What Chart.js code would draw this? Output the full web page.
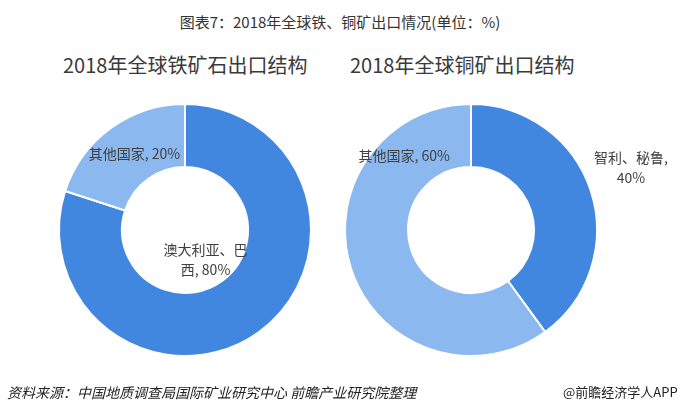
<!DOCTYPE html>
<html><head><meta charset="utf-8">
<script src="https://cdn.jsdelivr.net/npm/chart.js@4"></script>
<style>
html,body{margin:0;padding:0;background:#fff;}
#wrap{position:relative;width:680px;height:412px;overflow:hidden;font-family:"Noto Sans CJK SC","Noto Sans",sans-serif;}
canvas{position:absolute;left:0;top:0;}
.t{position:absolute;white-space:nowrap;color:#333;}
</style></head>
<body><div id="wrap">
<div class="t" style="left:0;width:680px;text-align:center;top:11px;font-size:15px;">图表7：2018年全球铁、铜矿出口情况(单位：%)</div>
<div class="t" id="t1" style="left:63px;top:50px;font-size:20px;color:#3a3a3a;"></div>
<div class="t" id="t2" style="left:350px;top:50px;font-size:20px;color:#3a3a3a;"></div>
<canvas id="c1" width="680" height="412"></canvas>
<canvas id="c2" width="680" height="412"></canvas>
<div class="t" style="left:7px;top:382px;font-size:14px;font-style:italic;color:#222;">资料来源：中国地质调查局国际矿业研究中心 前瞻产业研究院整理</div>
<div class="t" style="left:563px;top:382px;font-size:13px;color:#222;">@前瞻经济学人APP</div>
</div>
<script>
const ironTitle = "2018年全球铁矿石出口结构";
const copperTitle = "2018年全球铜矿出口结构";
const ironLabels = ["澳大利亚、巴西", "其他国家"];
const ironValues = [80, 20];
const ironLabelLines = [["澳大利亚、巴", "西, 80%"], ["其他国家, 20%"]];
const copperLabels = ["智利、秘鲁", "其他国家"];
const copperValues = [40, 60];
const copperLabelLines = [["智利、秘鲁,", "40%"], ["其他国家, 60%"]];
const colorsIron = ["#4187e0", "#8bb8ef"];
const colorsCopper = ["#4187e0", "#8bb8ef"];

document.getElementById('t1').textContent = ironTitle;
document.getElementById('t2').textContent = copperTitle;

const labelPlugin = {
  id: 'sliceLabels',
  afterDatasetsDraw(chart, args, opts) {
    const ctx = chart.ctx;
    const meta = chart.getDatasetMeta(0);
    ctx.save();
    ctx.font = '14px "Noto Sans CJK SC", sans-serif';
    ctx.fillStyle = '#404040';
    ctx.textAlign = 'center';
    ctx.textBaseline = 'middle';
    meta.data.forEach((arc, i) => {
      const p = arc.tooltipPosition();
      const lines = opts.lines[i];
      const off = opts.offsets[i];
      const lh = 20;
      const y0 = p.y + off[1] - (lines.length - 1) * lh / 2;
      lines.forEach((ln, k) => ctx.fillText(ln, p.x + off[0], y0 + k * lh));
    });
    ctx.restore();
  }
};

function makeChart(id, labels, values, colors, lines, offsets, pad) {
  return new Chart(document.getElementById(id), {
    type: 'doughnut',
    data: { labels: labels, datasets: [{ data: values, backgroundColor: colors, borderColor: '#ffffff', borderWidth: 2 }] },
    options: {
      responsive: false, animation: false, cutout: '50%',
      layout: { padding: pad },
      plugins: { legend: { display: false }, tooltip: { enabled: false }, title: { display: false },
        sliceLabels: { lines: lines, offsets: offsets } }
    },
    plugins: [labelPlugin]
  });
}

makeChart('c1', ironLabels, ironValues, colorsIron, ironLabelLines,
  [[-35, -47], [5, 0]], { left: 58, right: 368, top: 103, bottom: 55 });
makeChart('c2', copperLabels, copperValues, colorsCopper, copperLabelLines,
  [[70, -33], [23, -104]], { left: 344, right: 82, top: 103, bottom: 55 });
</script>
</body></html>
